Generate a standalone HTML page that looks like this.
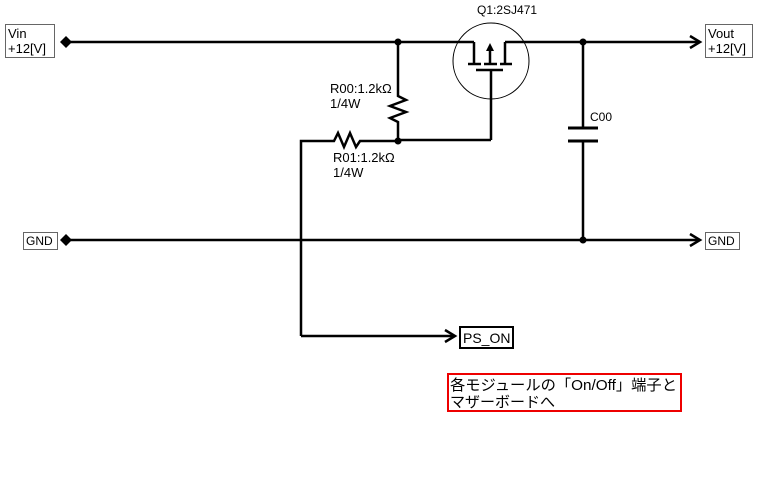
<!DOCTYPE html>
<html><head><meta charset="utf-8"><style>
body{margin:0;background:#fff;width:763px;height:482px;overflow:hidden}
text{font-family:"Liberation Sans","Noto Sans CJK JP",sans-serif;font-size:12px;fill:#000}
</style></head><body>
<svg width="763" height="482" xmlns="http://www.w3.org/2000/svg">
<g stroke="#000" stroke-width="2.5" fill="none">
<line x1="66" y1="42" x2="474" y2="42"/>
<line x1="505" y1="42" x2="700" y2="42"/>
<polyline points="690,36 700,42 690,48"/>
<line x1="398" y1="42" x2="398" y2="92"/>
<polyline points="398,92 398,96 406,100 390,106 406,112 390,118 398,122 398,140"/>
<line x1="398" y1="140" x2="491" y2="140"/>
<line x1="491" y1="70" x2="491" y2="140"/>
<polyline points="301,336 301,141 330,141 334,141 338,133 344,147 350,133 356,147 360,141 398,141"/>
<line x1="301" y1="336" x2="455" y2="336"/>
<polyline points="445,330 455,336 445,342"/>
<line x1="66" y1="240" x2="700" y2="240"/>
<polyline points="690,234 700,240 690,246"/>
<line x1="583" y1="42" x2="583" y2="128"/>
<line x1="583" y1="141" x2="583" y2="240"/>
<line x1="568" y1="128" x2="598" y2="128" stroke-width="3"/>
<line x1="568" y1="141" x2="598" y2="141" stroke-width="3"/>
<line x1="474" y1="42" x2="474" y2="64"/>
<line x1="505" y1="42" x2="505" y2="64"/>
<line x1="468" y1="64" x2="481" y2="64"/>
<line x1="484" y1="64" x2="497" y2="64"/>
<line x1="500" y1="64" x2="512" y2="64"/>
<line x1="476" y1="70" x2="503" y2="70"/>
<line x1="490" y1="64" x2="490" y2="50"/>
</g>
<polygon points="490,43 486,51 494,51" fill="#000"/>
<circle cx="491" cy="61" r="38" stroke="#000" stroke-width="1" fill="none"/>
<polygon points="66,36 72,42 66,48 60,42" fill="#000"/>
<polygon points="66,234 72,240 66,246 60,240" fill="#000"/>
<g fill="#000"><circle cx="398" cy="42" r="3.5"/><circle cx="398" cy="141" r="3.5"/><circle cx="583" cy="42" r="3.5"/><circle cx="583" cy="240" r="3.5"/></g>
<g stroke="#666" stroke-width="1" fill="#fff">
<rect x="5.5" y="24.5" width="49" height="33"/>
<rect x="705.5" y="24.5" width="47" height="33"/>
<rect x="23.5" y="232.5" width="34" height="17"/>
<rect x="705.5" y="232.5" width="34" height="17"/>
</g>
<rect x="460" y="327" width="53" height="21" fill="#fff" stroke="#000" stroke-width="2"/>
<rect x="448" y="374" width="233" height="37" fill="#fff" stroke="#e00" stroke-width="2"/>
<text x="8" y="38" style="font-size:13px">Vin</text><text x="8" y="53" style="font-size:13px">+12[V]</text>
<text x="708" y="38" style="font-size:13px">Vout</text><text x="708" y="53" style="font-size:13px">+12[V]</text>
<text x="26" y="245">GND</text><text x="708" y="245">GND</text>
<text x="463" y="343" style="font-size:14px">PS_ON</text>
<text x="477" y="14">Q1:2SJ471</text>
<text x="330" y="93" style="font-size:13px">R00:1.2kΩ</text><text x="330" y="108" style="font-size:13px">1/4W</text>
<text x="333" y="162" style="font-size:13px">R01:1.2kΩ</text><text x="333" y="177" style="font-size:13px">1/4W</text>
<text x="590" y="121">C00</text>
<text x="450" y="390" style="font-size:15px" textLength="227" lengthAdjust="spacingAndGlyphs">各モジュールの「On/Off」端子と</text>
<text x="450" y="407" style="font-size:15px">マザーボードへ</text>
</svg>
</body></html>
